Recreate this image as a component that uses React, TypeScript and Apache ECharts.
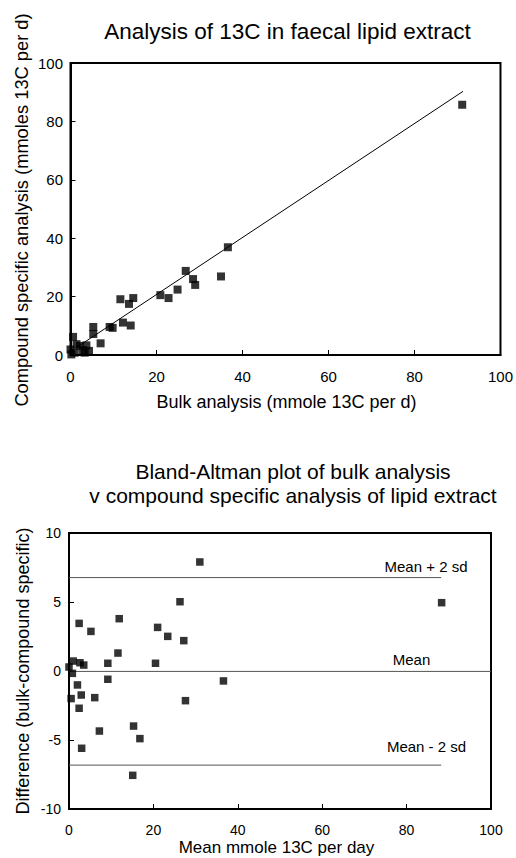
import React, { useEffect, useRef } from "react";
import * as echarts from "echarts";

// Top chart: compound specific vs bulk analysis (mmol 13C per day)
const BULK = [91.1, 36.6, 35.0, 26.8, 28.5, 29.0, 24.9, 20.9, 22.8, 11.6, 13.6, 14.6, 12.2, 14.0, 9.1, 9.8, 5.3, 5.3, 7.0, 0.6, 0.0, 0.2, 1.4, 2.2, 2.9, 3.7, 4.3, 3.3, 1.0];
const COMPOUND = [85.7, 36.9, 26.9, 28.8, 26.0, 24.0, 22.4, 20.5, 19.5, 19.1, 17.5, 19.5, 11.1, 10.1, 9.6, 9.3, 9.6, 7.2, 4.0, 6.2, 1.9, 0.2, 3.7, 3.1, 1.7, 3.3, 1.4, 0.8, 0.8];
const FIT_X = [0, 91.3];
const FIT_Y = [1.2, 90.3];

// Bottom chart: Bland-Altman
const BA_MEAN = [31.0, 88.3, 26.3, 11.9, 2.4, 5.2, 21.0, 23.4, 27.2, 11.6, 9.2, 20.5, 1.0, 2.6, 3.5, 0.0, 0.8, 36.6, 9.2, 2.0, 2.9, 6.1, 0.5, 27.6, 2.4, 7.2, 15.3, 16.8, 3.0, 15.1];
const BA_DIFF = [7.9, 4.95, 5.02, 3.79, 3.45, 2.87, 3.16, 2.51, 2.2, 1.3, 0.56, 0.56, 0.72, 0.6, 0.43, 0.29, -0.17, -0.72, -0.6, -1.01, -1.74, -1.93, -2.0, -2.15, -2.7, -4.35, -3.99, -4.9, -5.6, -7.56];
const DIFF_MEAN = -0.03;
const DIFF_UPPER = 6.77;
const DIFF_LOWER = -6.82;
const LIMIT_X_END = 88.2;
const X_RANGE = [0, 100];

const FONT = '"Liberation Sans", Arial, sans-serif';

const zip = (a: number[], b: number[]) => a.map((v, i) => [v, b[i]]);

function axisBase(fontSize: number, margin: number) {
  return {
    axisLine: { show: true, onZero: false, lineStyle: { color: "#000", width: 2 } },
    axisTick: { show: true, inside: true, length: 5, lineStyle: { color: "#000", width: 1 } },
    axisLabel: { color: "#000", fontSize, fontFamily: FONT, margin },
    splitLine: { show: false },
  };
}

function txt(x: number, y: number, text: string, size: number, rotation = 0) {
  return {
    type: "text",
    x,
    y,
    rotation,
    style: {
      text,
      fill: "#000",
      fontSize: size,
      fontFamily: FONT,
      align: "center",
      verticalAlign: "middle",
    },
  };
}

export default function App() {
  const ref = useRef<HTMLDivElement>(null);
  useEffect(() => {
    document.body.style.margin = "0";
    if (!ref.current) return;
    const chart = echarts.init(ref.current, undefined, { renderer: "svg" });
    chart.setOption({
      animation: false,
      backgroundColor: "#fff",
      grid: [
        { left: 70.5, top: 63, width: 433, height: 292, show: true, borderColor: "#000", borderWidth: 2, backgroundColor: "transparent" },
        { left: 69, top: 533, width: 422, height: 276, show: true, borderColor: "#000", borderWidth: 2, backgroundColor: "transparent" },
      ],
      xAxis: [
        { type: "value", gridIndex: 0, min: X_RANGE[0], max: X_RANGE[1], interval: 20, ...axisBase(15, 14) },
        { type: "value", gridIndex: 1, min: X_RANGE[0], max: X_RANGE[1], interval: 20, ...axisBase(14, 14) },
      ],
      yAxis: [
        { type: "value", gridIndex: 0, min: 0, max: 100, interval: 20, ...axisBase(15, 7.5) },
        { type: "value", gridIndex: 1, min: -10, max: 10, interval: 5, ...axisBase(14, 8) },
      ],
      series: [
        {
          type: "line",
          xAxisIndex: 0,
          yAxisIndex: 0,
          data: zip(FIT_X, FIT_Y),
          showSymbol: false,
          lineStyle: { color: "#000", width: 1 },
          z: 1,
        },
        {
          type: "scatter",
          xAxisIndex: 0,
          yAxisIndex: 0,
          data: zip(BULK, COMPOUND),
          symbol: "rect",
          symbolSize: 8,
          itemStyle: { color: "#000" },
          clip: false,
          z: 2,
        },
        {
          type: "line",
          xAxisIndex: 1,
          yAxisIndex: 1,
          data: [[X_RANGE[0], DIFF_MEAN], [X_RANGE[1], DIFF_MEAN]],
          showSymbol: false,
          lineStyle: { color: "#555", width: 1 },
        },
        {
          type: "line",
          xAxisIndex: 1,
          yAxisIndex: 1,
          data: [[X_RANGE[0], DIFF_UPPER], [LIMIT_X_END, DIFF_UPPER]],
          showSymbol: false,
          lineStyle: { color: "#555", width: 1 },
        },
        {
          type: "line",
          xAxisIndex: 1,
          yAxisIndex: 1,
          data: [[X_RANGE[0], DIFF_LOWER], [LIMIT_X_END, DIFF_LOWER]],
          showSymbol: false,
          lineStyle: { color: "#555", width: 1 },
        },
        {
          type: "scatter",
          xAxisIndex: 1,
          yAxisIndex: 1,
          data: zip(BA_MEAN, BA_DIFF),
          symbol: "rect",
          symbolSize: 7.5,
          itemStyle: { color: "#000" },
          clip: false,
          z: 3,
        },
      ],
      graphic: [
        txt(287.5, 31.5, "Analysis of 13C in faecal lipid extract", 22.5),
        txt(21.5, 210, "Compound specific analysis (mmoles 13C per d)", 18.3, Math.PI / 2),
        txt(286.5, 402, "Bulk analysis (mmole 13C per d)", 18),
        txt(293, 471.5, "Bland-Altman plot of bulk analysis", 21),
        txt(293, 495, "v compound specific analysis of lipid extract", 21),
        txt(23, 671, "Difference (bulk-compound specific)", 18, Math.PI / 2),
        txt(276.5, 847, "Mean mmole 13C per day", 17),
        txt(426, 566.3, "Mean + 2 sd", 15),
        txt(411.5, 659, "Mean", 15),
        txt(426.5, 746.7, "Mean - 2 sd", 15),
      ],
    });
    return () => chart.dispose();
  }, []);
  return <div ref={ref} style={{ width: 516, height: 858 }} />;
}
